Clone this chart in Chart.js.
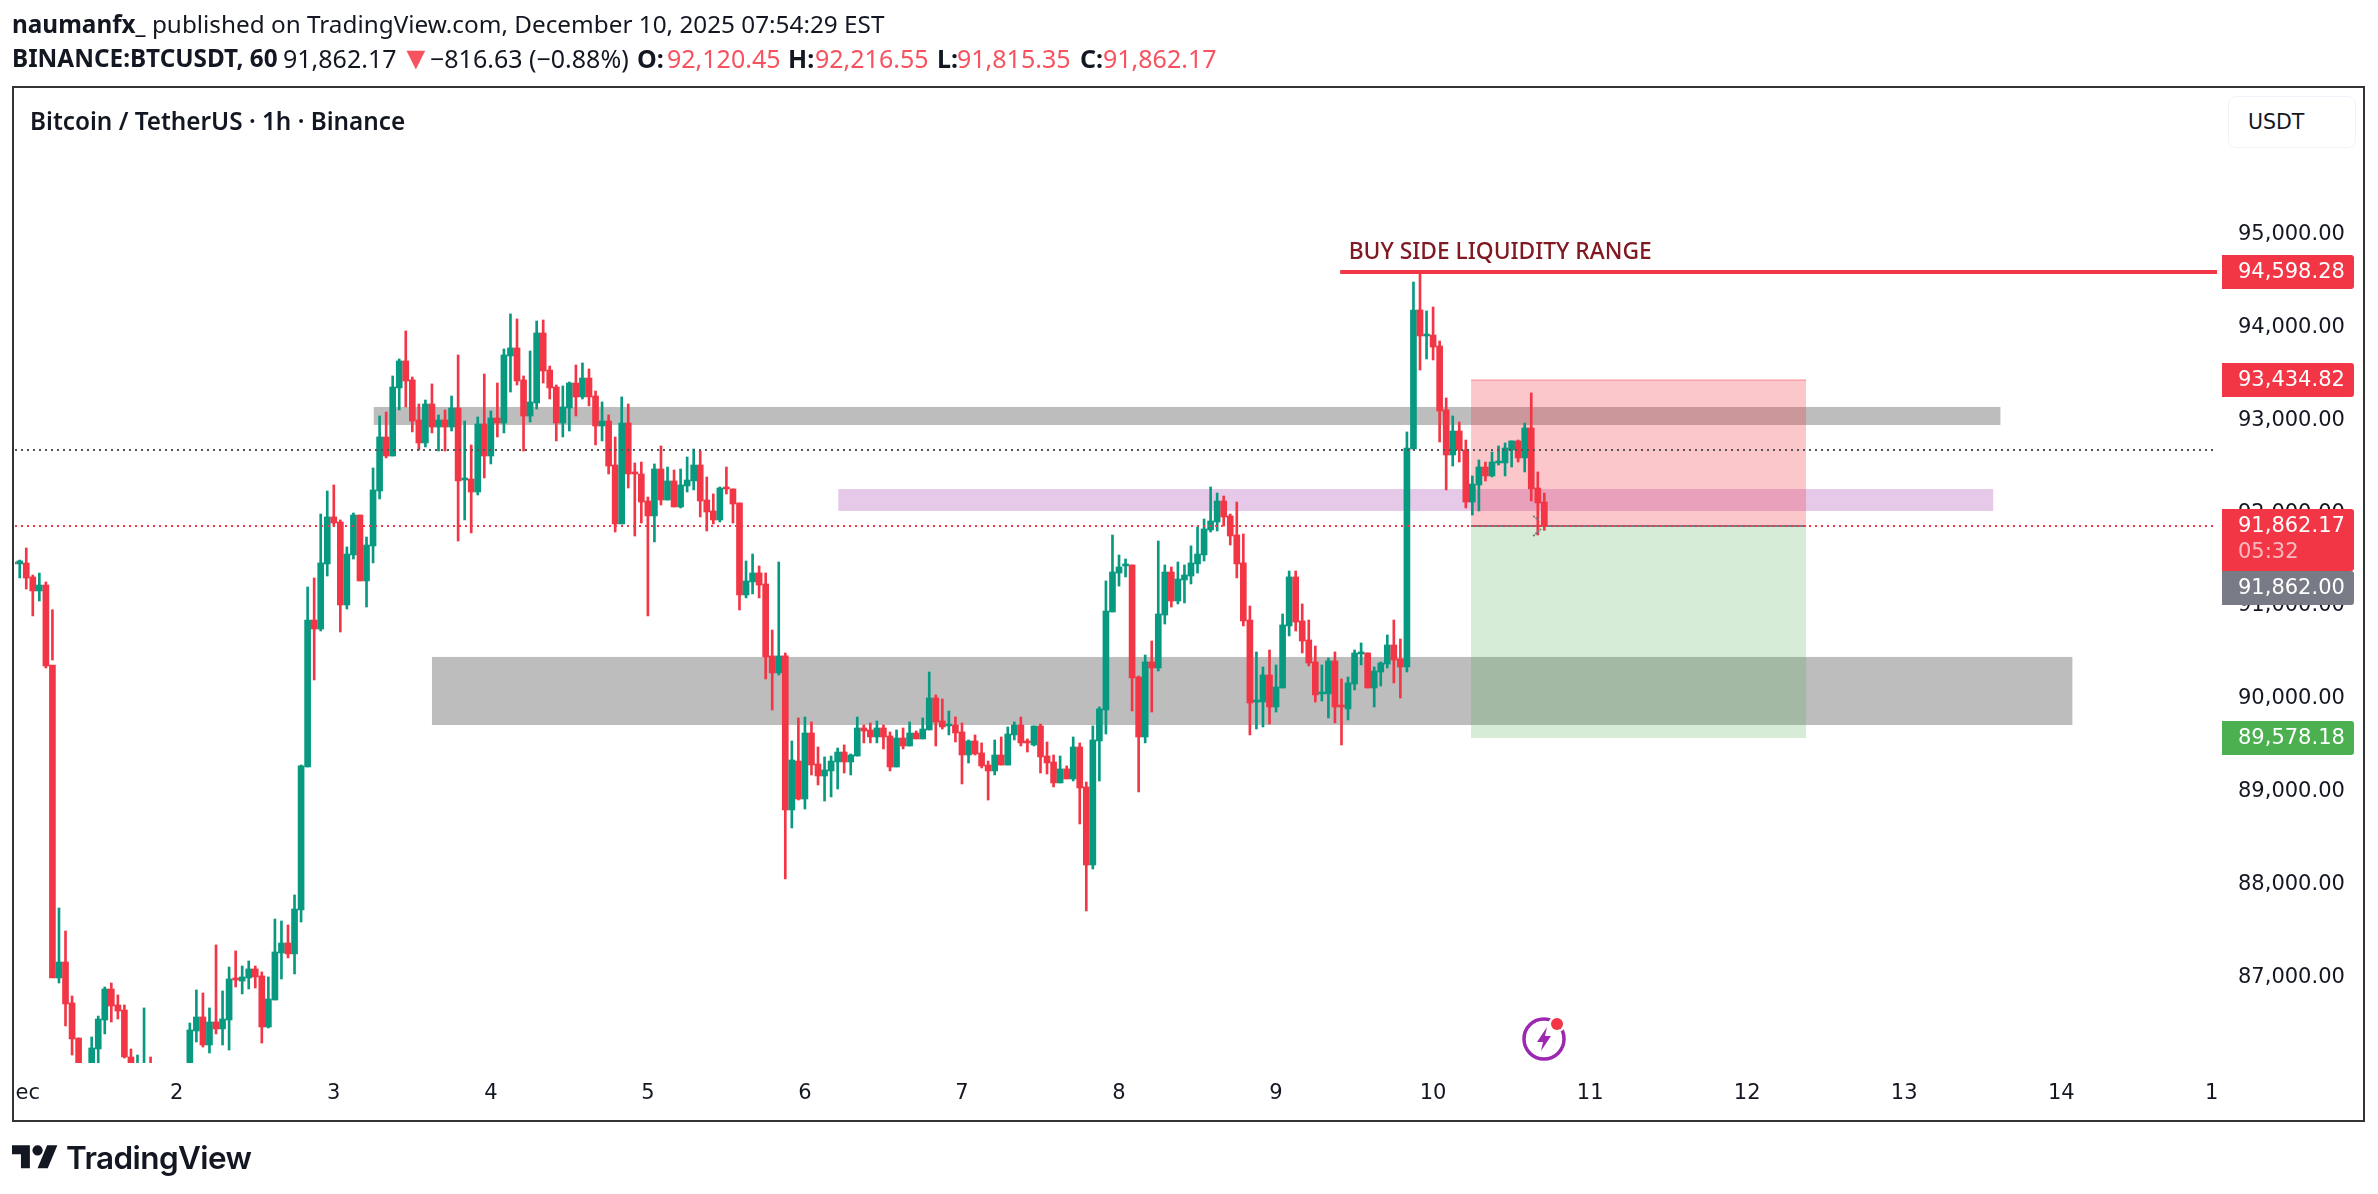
<!DOCTYPE html>
<html>
<head>
<meta charset="utf-8">
<title>BTCUSDT 1h</title>
<script src="https://cdn.jsdelivr.net/npm/chart.js@4/dist/chart.umd.min.js"></script>
<style>
  html, body { margin: 0; padding: 0; background: #fff; }
  body { width: 2378px; height: 1194px; position: relative; overflow: hidden; font-family: "Noto Sans", sans-serif; color: #131722; }
  canvas { position: absolute; left: 0; top: 0; }
  .line { position: absolute; white-space: nowrap; font-size: 24.3px; line-height: 30px; }
  .line b { font-weight: 700; }
  .dn { color: #F7525F; }
  #head1 { left: 12px; top: 9px; }
  #head2 { left: 0; top: 43px; }
  #head2 span, #head2 b { position: absolute; top: 0; font-size: 25px; }
  #head2 b.sym { font-size: 24.3px; }
  #head2 span.tri { font-size: 32px; top: -1px; }
  #legend { left: 30px; top: 106px; font-weight: 600; }
  #currency { position: absolute; left: 2228px; top: 96px; width: 126px; height: 50px; border: 1px solid #f0f3fa; border-radius: 8px; font: 20.5px "DejaVu Sans", sans-serif; line-height: 50px; text-indent: 19px; background: #fff; }
  #logo { position: absolute; left: 12px; top: 1145px; }
  #brand { left: 66px; top: 1137px; font: 600 31.5px/42px Inter, sans-serif; letter-spacing: -0.6px; }
  #bolt { position: absolute; left: 1514px; top: 1009px; }
</style>
</head>
<body>
<canvas id="chart" width="2378" height="1194"></canvas>
<div class="line" id="head1"><b>naumanfx_</b> published on TradingView.com, December 10, 2025 07:54:29 EST</div>
<div class="line" id="head2">
  <b class="sym" style="left:12px">BINANCE:BTCUSDT, 60</b>
  <span style="left:283px">91,862.17</span>
  <span class="dn tri" style="left:400px">▼</span>
  <span style="left:430px">−816.63 (−0.88%)</span>
  <b style="left:637px">O:</b><span class="dn" style="left:667px">92,120.45</span>
  <b style="left:788px">H:</b><span class="dn" style="left:815px">92,216.55</span>
  <b style="left:937px">L:</b><span class="dn" style="left:957px">91,815.35</span>
  <b style="left:1080px">C:</b><span class="dn" style="left:1103px">91,862.17</span>
</div>
<div class="line" id="legend">Bitcoin / TetherUS · 1h · Binance</div>
<div id="currency">USDT</div>
<svg id="logo" width="46" height="24" viewBox="0 0 36 18.5"><path fill="#131722" d="M14 18H7V7H0V0h14v18zM28 18h-8L27.5 0h8L28 18z"/><circle fill="#131722" cx="20" cy="4" r="4"/></svg>
<div class="line" id="brand">TradingView</div>
<svg id="bolt" width="60" height="60" viewBox="0 0 60 60">
  <circle cx="30" cy="30" r="20" fill="none" stroke="#9C27B0" stroke-width="3.5"/>
  <polygon fill="#9C27B0" points="33,18 23,33 29,33 27,42 37,27 31,27"/>
  <circle cx="43" cy="15" r="8.5" fill="#fff"/>
  <circle cx="43" cy="15" r="6" fill="#F23645"/>
</svg>

<script>
// one candle per hour, first one is 23:00 on Nov 30
const firstHour = -1;

const candleOpen = [91474,91453,91463,91313,91162,91226,90364,86993,87165,86724,86346,85840,85873,86228,86540,86874,86702,86648,86142,85916,85895,86002,85916,85840,85895,85873,85938,85981,86422,86573,86271,86519,86444,86540,86993,86960,86993,87090,87015,86465,86756,87262,87370,87252,87726,89266,90849,90752,91453,91959,91905,91011,91550,91980,91270,91647,92239,92821,92616,93349,93640,93435,93004,92756,93176,92928,93004,92928,93133,92357,92368,92228,92961,92616,93025,92971,93693,93780,93435,93047,93187,93941,93542,93359,92971,93133,93402,93252,93456,93262,92939,92993,92519,91884,92971,92444,92422,92131,91970,92476,92142,92347,92067,92293,92347,92519,92142,92024,91927,92282,92261,92110,91119,91259,91356,91237,90462,90279,90462,88803,89330,88921,89632,89298,89169,89223,89320,89427,89320,89384,89686,89665,89589,89686,89600,89266,89578,89492,89632,89568,89665,90009,89762,89708,89718,89643,89395,89546,89417,89287,89223,89395,89287,89611,89718,89546,89503,89708,89384,89320,89094,89245,89137,89481,89051,88210,89546,89880,90936,91355,91431,91442,90235,89589,90397,90332,90903,91366,91054,91280,91323,91453,91550,91819,91905,92131,91970,91765,91464,90849,89966,89966,90257,89912,90117,90785,91313,90839,90634,90397,90053,90053,90408,89934,89891,90160,90483,90494,90117,90289,90375,90580,90429,90343,92691,94189,93909,93919,93801,93112,92627,92885,92681,92120,92304,92497,92401,92541,92541,92681,92778,92595,92918,92271,92120.45];
const candleHigh = [91485,91495,91625,91334,91355,91259,90418,87747,87499,86799,86346,86045,86357,86583,86896,86939,86810,86702,86228,86163,86670,86142,86045,86024,86002,86045,86045,86508,86864,86831,86670,87349,86853,87111,87284,87122,87176,87122,87058,87004,87628,87607,87564,87887,89287,91205,91302,91991,92239,92304,91927,91636,92002,91980,91743,92487,93047,93090,93478,93661,93963,93467,93176,93219,93392,93058,93112,93262,93704,92993,92735,93036,93499,93101,93402,93769,94146,94092,93478,93747,94070,94081,93585,93381,93370,93413,93596,93618,93553,93316,93198,93058,92821,93252,93176,92541,92551,92174,92530,92724,92497,92465,92476,92605,92691,92670,92390,92207,92282,92497,92261,92110,91485,91560,91431,91356,90741,91474,90494,89546,89794,89804,89751,89481,89374,89384,89470,89503,89406,89804,89718,89740,89761,89718,89643,89665,89686,89751,89654,89794,90289,90042,89998,89869,89805,89740,89557,89611,89525,89330,89557,89589,89697,89751,89804,89568,89708,89729,89535,89395,89384,89277,89589,89525,89104,89708,89912,91270,91765,91550,91506,91442,90246,90472,90623,91700,91442,91420,91474,91442,91647,91851,91937,92282,92217,92185,91991,92120,91776,91000,90505,90343,90526,90365,90914,91377,91377,91022,90849,90569,90365,90440,90505,90214,90235,90526,90602,90494,90343,90397,90688,90849,90645,92875,94490,94598.28,94178,94221,93855,93241,93047,92982,92788,92401,92573,92551,92659,92724,92756,92778,92788,92971,93295,92444,92216.55];
const candleLow = [91453,91302,91183,90893,91054,90332,90960,86939,86476,86163,85787,85679,85787,86002,86390,86519,86551,86131,85916,85840,85808,85840,85765,85733,85787,85787,85840,85916,86303,86249,86185,86390,86271,86217,86896,86821,86874,86885,86292,86454,86756,86982,87209,87036,87596,89266,90203,90731,91323,91862,90720,90968,91506,91270,90989,91464,92153,92595,92616,93112,93144,92875,92681,92713,92864,92670,92670,92885,91700,91927,91787,92196,92379,92530,92821,92864,93305,93381,92670,92982,93122,93402,93230,92778,92821,92885,93047,93230,93155,92735,92778,92422,91797,91884,92271,91754,91894,90893,91690,92088,92142,92067,92056,92228,92250,91959,91808,91884,91905,92207,91894,90957,91087,91130,91087,90214,89880,90257,88060,88609,88910,88813,89180,89072,88899,88943,89029,89201,89180,89384,89525,89525,89525,89460,89223,89266,89460,89492,89568,89568,89665,89492,89675,89611,89535,89083,89309,89395,89255,88910,89180,89287,89287,89557,89492,89427,89492,89201,89190,89051,89094,89137,89115,88652,87715,88167,89115,89621,90936,91215,91313,89869,88997,89525,89858,90300,90806,90989,91022,91033,91237,91355,91485,91797,91808,91862,91657,91302,90785,89611,89675,89697,89729,89858,90117,90677,90731,90494,90354,89966,89977,89794,89740,89503,89772,90096,90365,90117,89912,90138,90332,90171,90009,90289,92691,93542,93661,93650,92767,92250,92508,92551,92056,91980,92024,92347,92390,92519,92401,92497,92551,92444,92131,91765,91815.35];
const candleClose = [91453,91485,91301,91162,91226,90354,86993,87165,86713,86336,85840,85873,86239,86551,86874,86691,86637,86142,85981,86002,86002,85916,85840,85895,85873,85938,85981,86433,86573,86271,86519,86444,86551,86982,86971,87004,87090,87004,86465,86767,87273,87370,87252,87736,89277,90849,90752,91464,91959,91894,91011,91560,91980,91270,91657,92250,92821,92616,93359,93640,93424,92993,92756,93176,92928,93004,92928,93133,92347,92379,92228,92961,92616,93025,92971,93704,93780,93424,93047,93198,93941,93532,93349,92971,93144,93402,93252,93456,93252,92939,92993,92508,91884,92971,92422,92422,92120,91970,92476,92142,92347,92067,92304,92357,92519,92131,92013,91927,92271,92261,92099,91119,91270,91356,91226,90451,90279,90462,88803,89341,88921,89632,89287,89169,89234,89330,89427,89320,89395,89686,89654,89589,89686,89589,89266,89578,89492,89632,89568,89675,90009,89751,89697,89729,89632,89395,89546,89406,89277,89223,89395,89287,89621,89718,89525,89525,89708,89374,89309,89094,89245,89137,89481,89040,88210,89557,89891,90946,91366,91420,91453,90225,89589,90397,90332,90914,91366,91054,91291,91334,91464,91560,91830,91916,92131,91959,91754,91453,90839,89955,89988,90257,89912,90128,90796,91313,90828,90623,90386,90042,90074,90408,89912,89912,90171,90494,90505,90117,90300,90386,90580,90418,90343,92702,94189,93909,93930,93790,93101,92627,92885,92681,92120,92314,92497,92401,92551,92562,92702,92778,92595,92918,92261,92110,91862.17];

// x axis: hours since Dec 1 00:00
const dayTicks = [0,24,48,72,96,120,144,168,192,216,240,264,288,312,336];
const dayLabels = ["Dec","2","3","4","5","6","7","8","9","10","11","12","13","14","15"];
const priceTicks = [95000,94000,93000,92000,91000,90000,89000,88000,87000];

const lastPrice = 91862.17;
const prevClose = 92678.8;
const bidPrice = 91862.0;
const liquidityLevel = 94598.28;
const stopPrice = 93434.82;
const targetPrice = 89578.18;

const upperZone = { from: 54.1, to: 302.7, high: 93144, low: 92950 };
const fvgZone = { from: 125.1, to: 301.6, high: 92260, low: 92024 };
const lowerZone = { from: 63, to: 313.7, high: 90451, low: 89718 };
const positionTool = { from: 221.8, to: 273 };
const liquidityLine = { from: 201.8, textHour: 203.1, textPrice: 94813 };
// little grey pen strokes next to the last candle: [hour, price, hour, price]
const penStrokes = [[231.3, 91970, 232.1, 91927], [231.3, 91754, 232.5, 91830]];

const UP = "#089981";
const DOWN = "#F23645";
const AXIS_FONT = '21px "DejaVu Sans", sans-serif';

const hours = candleOpen.map((_, i) => firstHour + i);
const candleColors = candleOpen.map((open, i) => (candleClose[i] >= open ? UP : DOWN));

function formatPrice(value) {
  return value.toLocaleString("en-US", { minimumFractionDigits: 2, maximumFractionDigits: 2 });
}

function fillZone(ctx, scales, zone, color) {
  const left = scales.x.getPixelForValue(zone.from);
  const right = scales.x.getPixelForValue(zone.to);
  const top = scales.y.getPixelForValue(zone.high);
  const bottom = scales.y.getPixelForValue(zone.low);
  ctx.fillStyle = color;
  ctx.fillRect(left, top, right - left, bottom - top);
}

function hLine(ctx, scales, price, from, to, color, width, dash) {
  const y = Math.round(scales.y.getPixelForValue(price));
  ctx.save();
  ctx.strokeStyle = color;
  ctx.lineWidth = width;
  ctx.setLineDash(dash || []);
  ctx.beginPath();
  ctx.moveTo(from, y);
  ctx.lineTo(to, y);
  ctx.stroke();
  ctx.restore();
}

function priceTag(ctx, top, height, text, color) {
  ctx.fillStyle = color;
  ctx.beginPath();
  ctx.roundRect(2222, top, 132, height, [0, 3, 3, 0]);
  ctx.fill();
  ctx.fillStyle = "#fff";
  ctx.font = AXIS_FONT;
  ctx.textAlign = "left";
  ctx.textBaseline = "middle";
  ctx.fillText(text, 2238, top + 17.5);
}

const drawingsPlugin = {
  id: "drawings",
  beforeDatasetsDraw(chart) {
    const { ctx, scales, chartArea, width } = chart;
    ctx.save();
    // the time labels stop at the pane edges
    ctx.fillStyle = "#fff";
    ctx.fillRect(0, chartArea.bottom, chartArea.left, 58);
    ctx.fillRect(chartArea.right, chartArea.bottom, width - chartArea.right, 58);

    fillZone(ctx, scales, upperZone, "#bdbdbd");
    fillZone(ctx, scales, fvgZone, "#e6c9e9");
    fillZone(ctx, scales, lowerZone, "#bdbdbd");
    fillZone(ctx, scales, { ...positionTool, high: stopPrice, low: lastPrice }, "rgba(242,54,69,0.28)");
    fillZone(ctx, scales, { ...positionTool, high: lastPrice, low: targetPrice }, "rgba(76,175,80,0.23)");

    const toolLeft = scales.x.getPixelForValue(positionTool.from);
    const toolRight = scales.x.getPixelForValue(positionTool.to);
    hLine(ctx, scales, stopPrice, toolLeft, toolRight, "rgba(242,54,69,0.25)", 2);
    hLine(ctx, scales, lastPrice, toolLeft, toolRight, "#787B86", 2);

    hLine(ctx, scales, liquidityLevel, scales.x.getPixelForValue(liquidityLine.from), chartArea.right, DOWN, 4);
    ctx.fillStyle = "#801922";
    ctx.font = '500 22.8px "Noto Sans", sans-serif';
    ctx.textAlign = "left";
    ctx.textBaseline = "middle";
    ctx.fillText("BUY SIDE LIQUIDITY RANGE", scales.x.getPixelForValue(liquidityLine.textHour), scales.y.getPixelForValue(liquidityLine.textPrice));
    ctx.restore();
  },
  afterDatasetsDraw(chart) {
    const { ctx, scales, chartArea } = chart;
    hLine(ctx, scales, prevClose, chartArea.left, chartArea.right, "#555", 2, [2, 4]);
    hLine(ctx, scales, lastPrice, chartArea.left, chartArea.right, DOWN, 2, [2, 4]);

    ctx.save();
    ctx.strokeStyle = "#787B86";
    ctx.lineWidth = 2;
    ctx.setLineDash([2, 1]);
    penStrokes.forEach(([hourA, priceA, hourB, priceB]) => {
      ctx.beginPath();
      ctx.moveTo(scales.x.getPixelForValue(hourA), scales.y.getPixelForValue(priceA));
      ctx.lineTo(scales.x.getPixelForValue(hourB), scales.y.getPixelForValue(priceB));
      ctx.stroke();
    });
    ctx.restore();
  },
  afterDraw(chart) {
    const { ctx, scales } = chart;
    const lastY = scales.y.getPixelForValue(lastPrice);
    ctx.save();
    priceTag(ctx, scales.y.getPixelForValue(liquidityLevel) - 17, 34, formatPrice(liquidityLevel), DOWN);
    priceTag(ctx, scales.y.getPixelForValue(stopPrice) - 17, 34, formatPrice(stopPrice), DOWN);
    priceTag(ctx, scales.y.getPixelForValue(targetPrice) - 17, 34, formatPrice(targetPrice), "#4CAF50");
    // the grey bid tag hangs under the last price tag with its countdown
    priceTag(ctx, lastY + 45, 34, formatPrice(bidPrice), "#787B86");
    priceTag(ctx, lastY - 17, 62, formatPrice(lastPrice), DOWN);
    ctx.fillStyle = "rgba(255,255,255,0.65)";
    ctx.fillText("05:32", 2238, lastY + 27);

    // frame round the whole chart
    ctx.strokeStyle = "#333";
    ctx.lineWidth = 2;
    ctx.strokeRect(13, 87, 2351, 1034);
    ctx.restore();
  },
};

new Chart(document.getElementById("chart"), {
  type: "bar",
  data: {
    datasets: [
      {
        label: "wick",
        data: hours.map((hour, i) => ({ x: hour, y: [candleLow[i], candleHigh[i]] })),
        backgroundColor: candleColors,
        barThickness: 2,
        grouped: false,
        order: 2,
      },
      {
        label: "body",
        data: hours.map((hour, i) => ({ x: hour, y: [candleOpen[i], candleClose[i]] })),
        backgroundColor: candleColors,
        barThickness: 6,
        grouped: false,
        order: 1,
      },
    ],
  },
  options: {
    responsive: false,
    animation: false,
    devicePixelRatio: 1,
    layout: { padding: { left: 15, top: 88, right: 0, bottom: 73 } },
    plugins: { legend: { display: false }, tooltip: { enabled: false } },
    scales: {
      x: {
        type: "linear",
        offset: false,
        min: -0.72,
        max: 335.8,
        grid: { display: false, drawTicks: false },
        border: { display: false },
        afterBuildTicks(scale) {
          scale.ticks = dayTicks.map((value) => ({ value }));
        },
        afterFit(scale) {
          scale.height = 58;
          scale.paddingLeft = 0;
          scale.paddingRight = 0;
        },
        ticks: {
          autoSkip: false,
          maxRotation: 0,
          padding: 18,
          color: "#131722",
          font: { family: '"DejaVu Sans", sans-serif', size: 21 },
          callback: (value) => dayLabels[dayTicks.indexOf(value)],
        },
      },
      y: {
        position: "right",
        min: 86077,
        max: 96580,
        grid: { display: false, drawTicks: false },
        border: { display: false },
        afterBuildTicks(scale) {
          scale.ticks = priceTicks.map((value) => ({ value }));
        },
        afterFit(scale) {
          scale.width = 161;
          scale.paddingTop = 0;
          scale.paddingBottom = 0;
        },
        ticks: {
          crossAlign: "near",
          padding: 21,
          color: "#131722",
          font: { family: '"DejaVu Sans", sans-serif', size: 21 },
          callback: (value) => formatPrice(value),
        },
      },
    },
  },
  plugins: [drawingsPlugin],
});
</script>
</body>
</html>
